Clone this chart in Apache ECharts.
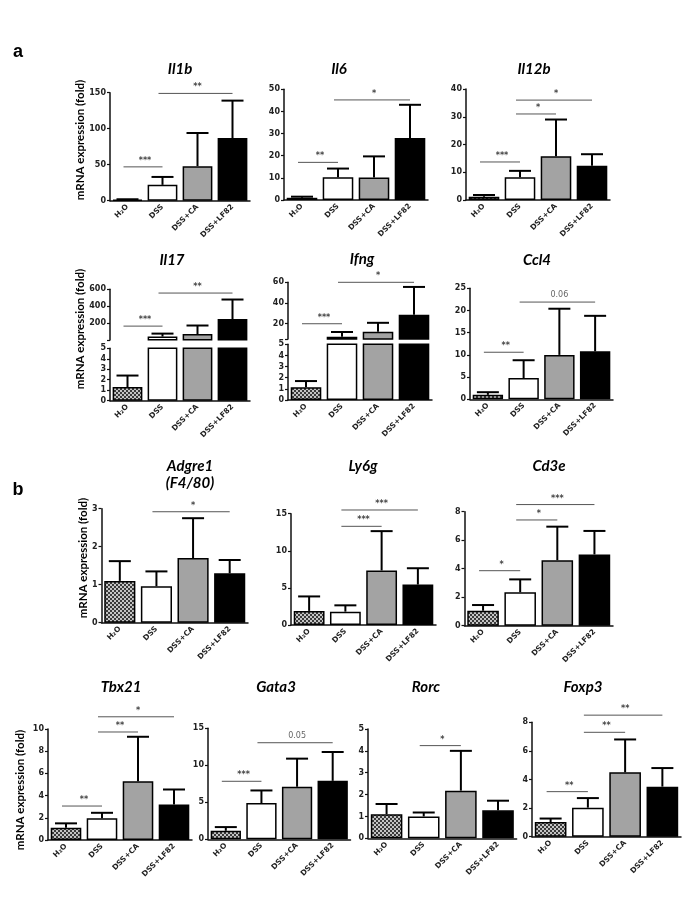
<!DOCTYPE html>
<html>
<head>
<meta charset="utf-8">
<script src="https://cdn.jsdelivr.net/npm/echarts@6/dist/echarts.min.js"></script>
<style>
html, body { margin: 0; padding: 0; background: #fff; }
#main { width: 685px; height: 913px; }
</style>
</head>
<body>
<div id="main"></div>
<script>
// groups on every x axis
var groups = ['H\u2082O', 'DSS', 'DSS+CA', 'DSS+LF82']
var yTitle = 'mRNA expression (fold)'

// mean and top of error bar, per gene; sig = [from, to, y, label]
var il1bMean = [1, 22, 48, 87]
var il1bErr = [2, 33, 94, 139]
var il1bSig = [[0, 1, 47, '***'], [1, 3, 149, '**']]

var il6Mean = [1, 10.3, 10.2, 28]
var il6Err = [1.5, 14.2, 19.7, 43]
var il6Sig = [[0, 1, 17, '**'], [1, 3, 45.2, '*']]

var il12bMean = [1.2, 8.2, 15.8, 12.3]
var il12bErr = [1.8, 10.5, 29, 16.5]
var il12bSig = [[0, 1, 13.7, '***'], [1, 2, 31, '*'], [1, 3, 36, '*']]

var il17Mean = [1.3, 45, 75, 250]
var il17Err = [2.4, 80, 175, 480]
var il17Sig = [[0, 1, 168, '***'], [1, 3, 556, '**']]

var ifngMean = [1.15, 7.2, 12, 28.5]
var ifngErr = [1.7, 11.8, 20.7, 55.5]
var ifngSig = [[0, 1, 19.8, '***'], [1, 3, 60, '*']]

var ccl4Mean = [1, 4.8, 10, 10.8]
var ccl4Err = [1.6, 8.8, 20.4, 18.8]
var ccl4Sig = [[0, 1, 10.6, '**'], [1, 3, 21.9, '0.06']]

var adgre1Mean = [1.1, 0.96, 1.7, 1.3]
var adgre1Err = [1.62, 1.35, 2.75, 1.65]
var adgre1Sig = [[1, 3, 2.92, '*']]

var ly6gMean = [1.9, 1.8, 7.35, 5.45]
var ly6gErr = [3.85, 2.65, 12.65, 7.65]
var ly6gSig = [[1, 2, 13.3, '***'], [1, 3, 15.5, '***']]

var cd3eMean = [1.05, 2.35, 4.6, 5.0]
var cd3eErr = [1.45, 3.25, 6.95, 6.65]
var cd3eSig = [[0, 1, 3.86, '*'], [1, 2, 7.42, '*'], [1, 3, 8.5, '***']]

var tbx21Mean = [1.1, 1.95, 5.3, 3.2]
var tbx21Err = [1.5, 2.45, 9.3, 4.55]
var tbx21Sig = [[0, 1, 3.06, '**'], [1, 2, 9.73, '**'], [1, 3, 11.1, '*']]

var gata3Mean = [1.15, 4.9, 7.1, 7.9]
var gata3Err = [1.65, 6.6, 10.9, 11.8]
var gata3Sig = [[0, 1, 7.84, '***'], [1, 3, 13.05, '0.05']]

var rorcMean = [1.1, 1.0, 2.18, 1.28]
var rorcErr = [1.57, 1.18, 4.0, 1.72]
var rorcSig = [[1, 2, 4.24, '*']]

var foxp3Mean = [1.02, 2.03, 4.5, 3.5]
var foxp3Err = [1.27, 2.7, 6.8, 4.8]
var foxp3Sig = [[0, 1, 3.15, '**'], [1, 2, 7.3, '**'], [1, 3, 8.5, '**']]

// panel layout (pixels)
var panels = [
  {name: ['Il1b'], mean: il1bMean, err: il1bErr, sig: il1bSig, x0: 110, x1: 250, y0: 92.7, y1: 200.7, max: 150, step: 50, tx: 180, ty: 69},
  {name: ['Il6'], mean: il6Mean, err: il6Err, sig: il6Sig, x0: 284, x1: 428, y0: 89.3, y1: 200, max: 50, step: 10, tx: 339, ty: 69},
  {name: ['Il12b'], mean: il12bMean, err: il12bErr, sig: il12bSig, x0: 466, x1: 610, y0: 89, y1: 200, max: 40, step: 10, tx: 534, ty: 69},
  {name: ['Il17'], mean: il17Mean, err: il17Err, sig: il17Sig, x0: 110, x1: 250, tx: 172, ty: 260,
    upper: {y0: 289.3, y1: 340, min: 5, max: 600, ticks: [200, 400, 600]},
    lower: {y0: 348.3, y1: 400.7, max: 5, step: 1}},
  {name: ['Ifng'], mean: ifngMean, err: ifngErr, sig: ifngSig, x0: 288, x1: 432, tx: 362, ty: 259,
    upper: {y0: 282.3, y1: 339, min: 5, max: 60, ticks: [20, 40, 60]},
    lower: {y0: 344.3, y1: 400, max: 5, step: 1}},
  {name: ['Ccl4'], mean: ccl4Mean, err: ccl4Err, sig: ccl4Sig, x0: 470, x1: 613, y0: 288.3, y1: 399.3, max: 25, step: 5, tx: 537, ty: 260},
  {name: ['Adgre1', '(F4/80)'], mean: adgre1Mean, err: adgre1Err, sig: adgre1Sig, x0: 101.5, x1: 248, y0: 508.7, y1: 622.7, max: 3, step: 1, tx: 190, ty: 466},
  {name: ['Ly6g'], mean: ly6gMean, err: ly6gErr, sig: ly6gSig, x0: 291, x1: 436, y0: 513.7, y1: 625, max: 15, step: 5, tx: 363, ty: 466},
  {name: ['Cd3e'], mean: cd3eMean, err: cd3eErr, sig: cd3eSig, x0: 464.5, x1: 613, y0: 511.7, y1: 625.7, max: 8, step: 2, tx: 549, ty: 466},
  {name: ['Tbx21'], mean: tbx21Mean, err: tbx21Err, sig: tbx21Sig, x0: 48, x1: 192, y0: 729, y1: 840, max: 10, step: 2, tx: 121, ty: 687},
  {name: ['Gata3'], mean: gata3Mean, err: gata3Err, sig: gata3Sig, x0: 208, x1: 350.5, y0: 728.3, y1: 839.3, max: 15, step: 5, tx: 276, ty: 687},
  {name: ['Rorc'], mean: rorcMean, err: rorcErr, sig: rorcSig, x0: 368, x1: 516.6, y0: 729, y1: 838.3, max: 5, step: 1, tx: 426, ty: 687},
  {name: ['Foxp3'], mean: foxp3Mean, err: foxp3Err, sig: foxp3Sig, x0: 532, x1: 681, y0: 722.3, y1: 836.7, max: 8, step: 2, tx: 583, ty: 687}
]

// checkered fill for the H2O bar
var pat = document.createElement('canvas')
pat.width = 4
pat.height = 4
var pc = pat.getContext('2d')
pc.fillStyle = '#c4c4c4'
pc.fillRect(0, 0, 4, 4)
pc.fillStyle = '#3a3a3a'
pc.fillRect(0, 0, 2, 2)
pc.fillRect(2, 2, 2, 2)
var fills = [{image: pat, repeat: 'repeat'}, '#ffffff', '#a3a3a3', '#000000']

var grids = []
var xAxes = []
var yAxes = []
var series = []
var labelFont = 'DejaVu Sans'

function addGrid (x0, x1, y0, y1, yCfg, showX) {
  var k = grids.length
  grids.push({left: x0, top: y0, width: x1 - x0, height: y1 - y0})
  xAxes.push({
    gridIndex: k,
    type: 'category',
    data: groups,
    show: showX,
    axisLine: {lineStyle: {color: '#111', width: 1.5}},
    axisTick: {alignWithLabel: true, length: 3, lineStyle: {color: '#111', width: 1.2}},
    axisLabel: {rotate: 45, interval: 0, fontSize: 7.5, fontWeight: 'bold', color: '#222', margin: 5, fontFamily: labelFont}
  })
  var y = {
    gridIndex: k,
    type: 'value',
    axisLine: {show: true, lineStyle: {color: '#111', width: 1.5}},
    axisTick: {show: true, length: 3, lineStyle: {color: '#111', width: 1.2}},
    splitLine: {show: false},
    axisLabel: {fontSize: 8, fontWeight: 'bold', color: '#222', margin: 4, fontFamily: labelFont}
  }
  if (yCfg.ticks) {
    y.min = yCfg.min
    y.max = yCfg.max
    y.axisLabel.customValues = yCfg.ticks
    y.axisTick.customValues = [yCfg.min].concat(yCfg.ticks)
  } else {
    y.min = 0
    y.max = yCfg.max
    y.interval = yCfg.step
  }
  yAxes.push(y)
  return k
}

function addBars (k, values) {
  series.push({
    type: 'bar',
    xAxisIndex: k,
    yAxisIndex: k,
    barCategoryGap: '15%',
    clip: true,
    itemStyle: {borderColor: '#000', borderWidth: 1.5},
    data: values.map(function (v, i) {
      return v === null ? '-' : {value: v, itemStyle: {color: fills[i]}}
    })
  })
}

function addErr (k, mean, err, keep) {
  var rows = []
  mean.forEach(function (v, i) {
    if (keep(i)) rows.push([i, v, err[i]])
  })
  series.push({
    type: 'custom',
    xAxisIndex: k,
    yAxisIndex: k,
    encode: {x: 0, y: [1, 2]},
    z: 3,
    data: rows,
    renderItem: function (params, api) {
      var p0 = api.coord([api.value(0), api.value(1)])
      var p1 = api.coord([api.value(0), api.value(2)])
      return {type: 'group', children: [
        {type: 'line', shape: {x1: p0[0], y1: p0[1], x2: p1[0], y2: p1[1]}, style: {stroke: '#000', lineWidth: 2}},
        {type: 'line', shape: {x1: p1[0] - 11, y1: p1[1], x2: p1[0] + 11, y2: p1[1]}, style: {stroke: '#000', lineWidth: 2}}
      ]}
    }
  })
}

function addSig (k, sig) {
  series.push({
    type: 'custom',
    xAxisIndex: k,
    yAxisIndex: k,
    encode: {x: [0, 1], y: 2},
    z: 4,
    data: sig.map(function (s) { return [s[0], s[1], s[2]] }),
    renderItem: function (params, api) {
      var s = sig[params.dataIndex]
      var p0 = api.coord([s[0], s[2]])
      var p1 = api.coord([s[1], s[2]])
      var isNum = s[3].indexOf('*') < 0
      return {type: 'group', children: [
        {type: 'line', shape: {x1: p0[0] - 4, y1: p0[1], x2: p1[0], y2: p1[1]}, style: {stroke: '#555', lineWidth: 1}},
        {type: 'text', x: (p0[0] + p1[0]) / 2, y: p0[1] - (isNum ? 3 : 2),
          style: {text: s[3], fill: isNum ? '#666' : '#444', font: (isNum ? 'normal 8px' : 'bold 8px') + ' DejaVu Sans',
            align: 'center', verticalAlign: 'bottom', textAlign: 'center', textVerticalAlign: 'bottom'}}
      ]}
    }
  })
}

var graphics = []

panels.forEach(function (p) {
  if (p.upper) {
    // broken axis: lower part 0-5, upper part above the break
    var lo = addGrid(p.x0, p.x1, p.lower.y0, p.lower.y1, p.lower, true)
    addBars(lo, p.mean)
    addErr(lo, p.mean, p.err, function (i) { return p.err[i] <= p.lower.max })
    var up = addGrid(p.x0, p.x1, p.upper.y0, p.upper.y1, p.upper, false)
    addBars(up, p.mean.map(function (v) { return v > p.upper.min ? v : null }))
    addErr(up, p.mean, p.err, function (i) { return p.mean[i] > p.upper.min })
    addSig(up, p.sig)
  } else {
    var k = addGrid(p.x0, p.x1, p.y0, p.y1, p, true)
    addBars(k, p.mean)
    addErr(k, p.mean, p.err, function () { return true })
    addSig(k, p.sig)
  }
  p.name.forEach(function (line, j) {
    graphics.push({type: 'text', x: p.tx, y: p.ty + j * 17,
      style: {text: line, font: 'italic bold 15px Lato', fill: '#000', align: 'center', verticalAlign: 'middle', textAlign: 'center', textVerticalAlign: 'middle'}})
  })
})

// y axis titles and panel letters
var yTitlePos = [[80, 140], [80, 329], [83, 558], [20, 790]]
yTitlePos.forEach(function (c) {
  graphics.push({type: 'text', x: c[0], y: c[1], rotation: Math.PI / 2,
    style: {text: yTitle, font: 'bold 11.5px Lato', fill: '#000', align: 'center', verticalAlign: 'middle', textAlign: 'center', textVerticalAlign: 'middle'}})
})
graphics.push({type: 'text', x: 18, y: 52, style: {text: 'a', font: 'bold 18px Liberation Sans', fill: '#000', align: 'center', verticalAlign: 'middle', textAlign: 'center', textVerticalAlign: 'middle'}})
graphics.push({type: 'text', x: 18, y: 490, style: {text: 'b', font: 'bold 18px Liberation Sans', fill: '#000', align: 'center', verticalAlign: 'middle', textAlign: 'center', textVerticalAlign: 'middle'}})

var chart = echarts.init(document.getElementById('main'))
chart.setOption({
  animation: false,
  backgroundColor: '#fff',
  grid: grids,
  xAxis: xAxes,
  yAxis: yAxes,
  series: series,
  graphic: graphics
})
</script>
</body>
</html>
